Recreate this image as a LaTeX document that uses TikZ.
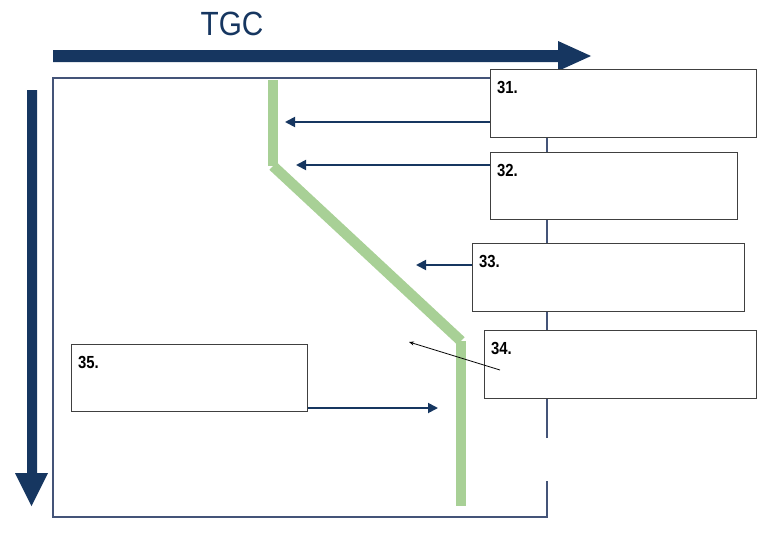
\documentclass[tikz,border=0pt]{standalone}
\usepackage{fontspec}
\setmainfont{Liberation Sans}
\usetikzlibrary{arrows.meta}
\definecolor{navy}{RGB}{22,54,96}
\definecolor{frameblue}{RGB}{68,84,120}
\definecolor{leaf}{RGB}{168,208,150}
\newcommand{\blab}[1]{\scalebox{0.85}[1]{\fontsize{17.5}{17.5}\selectfont\bfseries #1}}
\tikzset{
  stepbox/.style={draw=black!75,line width=1.1pt,fill=white,anchor=north west,inner sep=0pt},
  boxlabel/.style={anchor=north west,inner sep=0pt},
  navyarrow/.style={draw=navy,line width=1.8pt,-{Triangle[length=10pt,width=10pt]}},
  thinarrow/.style={draw=black,line width=0.8pt,-{Stealth[length=5pt,width=4pt]}},
  greenline/.style={draw=leaf,line width=10.5pt,line cap=butt},
  framel/.style={draw=frameblue,line width=1.1pt}
}
\begin{document}
\begin{tikzpicture}[x=1pt,y=-1pt]
\useasboundingbox (0,0) rectangle (768,538);
% title
\node[font=\fontsize{32}{32}\selectfont,text=navy] (tgc) at (232,24) {\scalebox{0.93}[1.05]{TGC}};
% big arrows
\fill[navy] (53,50) -- (558,50) -- (558,41) -- (591,56) -- (558,71) -- (558,62) -- (53,62) -- cycle;
\fill[navy] (27,90) -- (37,90) -- (37,473) -- (48,473) -- (31.5,506) -- (15,473) -- (27,473) -- cycle;
% frame
\coordinate (ftl) at (53,78);
\coordinate (fbl) at (53,517);
\coordinate (ftr) at (547,78);
\coordinate (fbr) at (547,517);
\coordinate (gapa) at (547,438);
\coordinate (gapb) at (547,481);
\draw[framel] (gapa) -- (ftr) -- (ftl) -- (fbl) -- (fbr) -- (gapb);
% green line
\coordinate (g1) at (273,80);
\coordinate (g2) at (273,166);
\coordinate (g3) at (461,341);
\coordinate (g4) at (461,506);
\draw[greenline] (g1) -- (g2);
\draw[greenline] (g2) -- (g3);
\draw[greenline] (g3) -- (g4);
% boxes
\node[stepbox,minimum width=266pt,minimum height=68pt] (b31) at (490,69) {};
\node[stepbox,minimum width=247pt,minimum height=67pt] (b32) at (490,152) {};
\node[stepbox,minimum width=272pt,minimum height=68pt] (b33) at (472,243) {};
\node[stepbox,minimum width=272pt,minimum height=68pt] (b34) at (484,330) {};
\node[stepbox,minimum width=236pt,minimum height=67pt] (b35) at (71,344) {};
% labels
\node[boxlabel] (l31) at (497,81) {\blab{31.}};
\node[boxlabel] (l32) at (497,164) {\blab{32.}};
\node[boxlabel] (l33) at (479,255) {\blab{33.}};
\node[boxlabel] (l34) at (491,342) {\blab{34.}};
\node[boxlabel] (l35) at (78,356) {\blab{35.}};
% arrows
\coordinate (t31) at (285,122);
\coordinate (t32) at (296,165);
\coordinate (t33) at (416,265);
\coordinate (t34) at (409,342);
\coordinate (s34) at (500,370);
\coordinate (t35) at (438,408);
\draw[navyarrow] (b31.west |- t31) -- (t31);
\draw[navyarrow] (b32.west |- t32) -- (t32);
\draw[navyarrow] (b33.west |- t33) -- (t33);
\draw[thinarrow] (s34) -- (t34);
\draw[navyarrow] (b35.east |- t35) -- (t35);
\end{tikzpicture}
\end{document}
